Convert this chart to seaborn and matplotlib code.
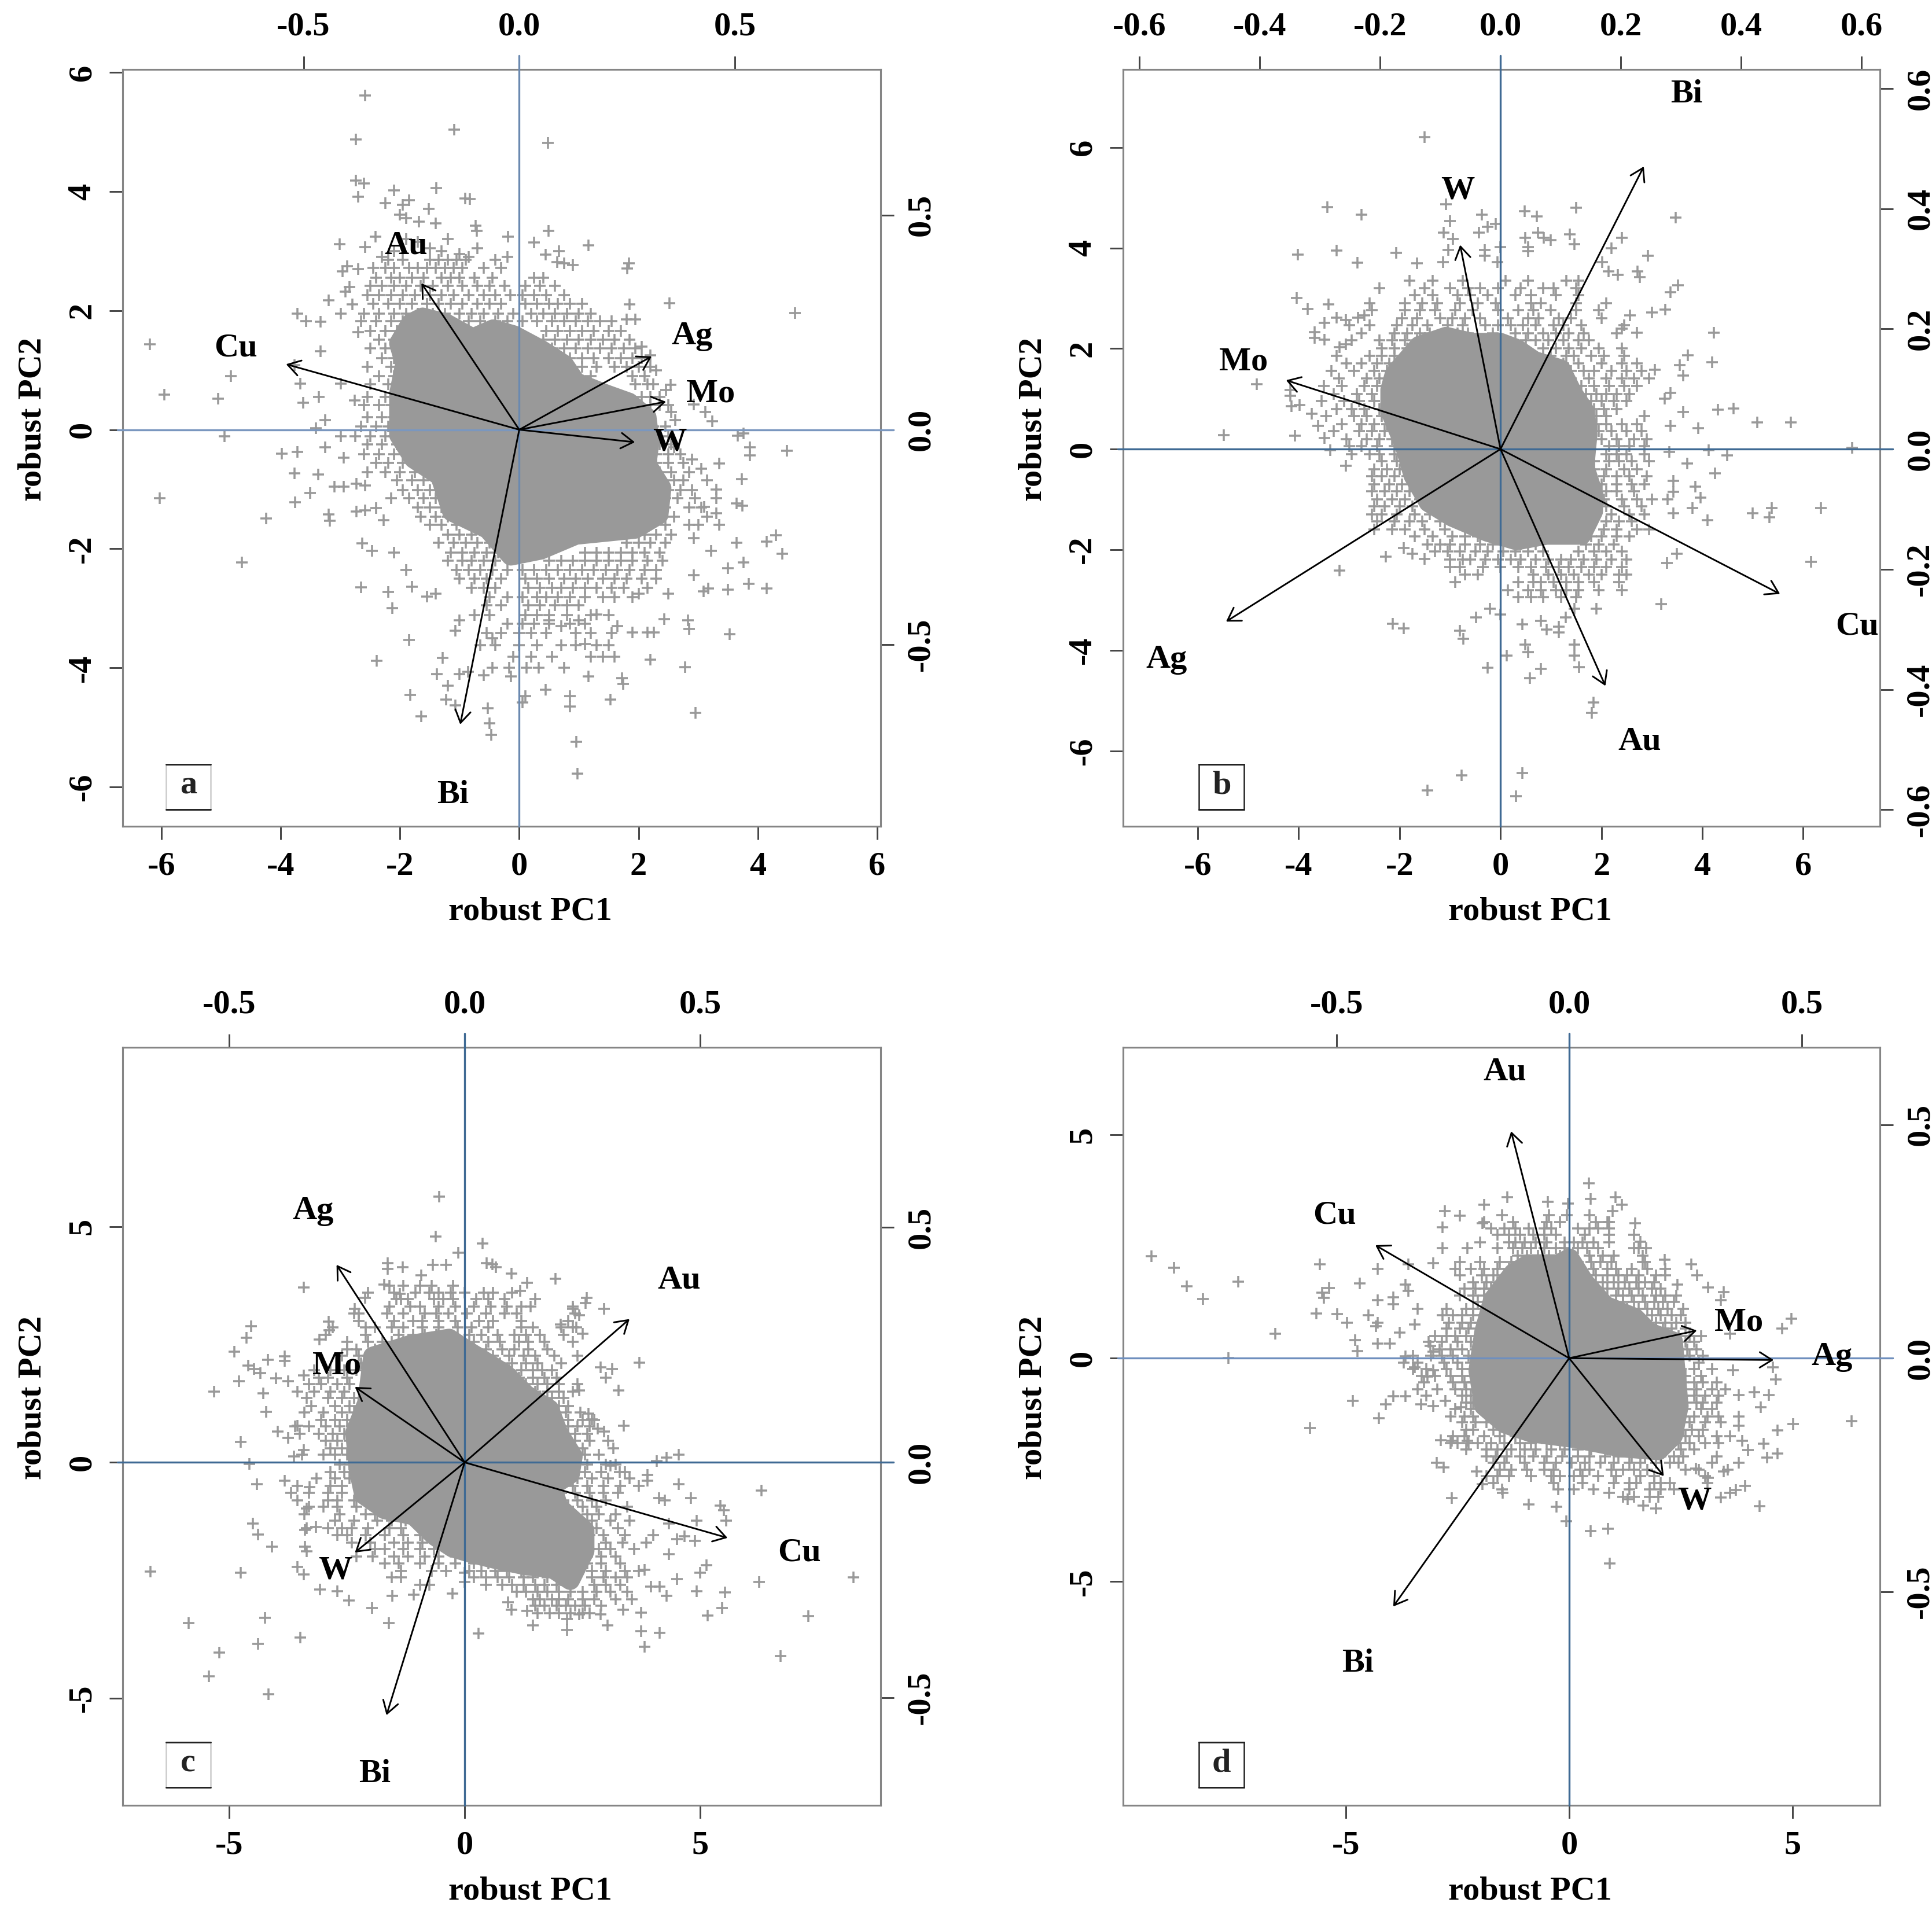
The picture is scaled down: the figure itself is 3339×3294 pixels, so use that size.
# biplots.py

import numpy as np
import pandas as pd
import seaborn as sns
import matplotlib.pyplot as plt
from matplotlib.patches import Rectangle

# --- CONFIG ---
FIG_W, FIG_H = 3339, 3294
DPI = 300
POINT_GREY = "#999999"
SPINE_GREY = "#858585"
TICK_SIZE = 14

# --- PANEL A ---
a_xlim = (-6.65, 6.06)
a_ylim = (-6.66, 6.05)
a_xticks = [-6, -4, -2, 0, 2, 4, 6]
a_yticks = [-6, -4, -2, 0, 2, 4, 6]
a_top_ticks = [-0.5, 0.0, 0.5]
a_right_ticks = [-0.5, 0.0, 0.5]
a_elements = ["Cu", "Au", "Ag", "Mo", "W", "Bi"]
a_tips = [(-3.91, 1.10), (-1.64, 2.46), (2.22, 1.23), (2.46, 0.47), (1.94, -0.21), (-0.99, -4.95)]
a_labels = [(-4.75, 1.37), (-1.90, 3.09), (2.90, 1.57), (3.21, 0.60), (2.52, -0.21), (-1.11, -6.14)]
# outline of the solid grey part of the cloud
a_core = [(-1.62, 1.89), (-1.23, 1.79), (-0.78, 1.54), (-0.44, 1.69), (-0.09, 1.59), (0.36, 1.35), (0.75, 1.1),
          (0.95, 0.8), (1.45, 0.6), (1.84, 0.46), (2.14, 0.21), (2.19, -0.19), (2.14, -0.58), (2.39, -0.98),
          (2.34, -1.43), (1.94, -1.67), (1.45, -1.72), (0.95, -1.77), (0.36, -2.02), (-0.14, -2.12), (-0.53, -1.67),
          (-1.13, -1.38), (-1.33, -0.78), (-1.77, -0.49), (-2.02, -0.09), (-2.02, 0.6), (-1.92, 1.1), (-2.02, 1.45),
          (-1.82, 1.79)]
a_points = [(-2.58, 5.61), (-2.74, 4.87), (-1.09, 5.04), (0.48, 4.82), (-2.74, 4.18), (-2.6, 4.14), (-2.7, 3.91),
            (-2.1, 4.02), (-1.39, 4.06), (-0.91, 3.88), (-0.83, 3.87), (-2.25, 3.81), (-1.95, 3.78), (-1.85, 3.85),
            (-1.52, 3.71), (-2.0, 3.61), (-1.9, 3.55), (-1.68, 3.49), (-1.4, 3.47), (-0.73, 3.43), (-0.71, 3.34),
            (0.49, 3.34), (-0.19, 3.24), (1.16, 3.1), (0.25, 3.14), (0.44, 2.94), (0.67, 3.0), (0.64, 2.81),
            (0.9, 2.77), (0.75, 2.79), (-3.01, 3.12), (-2.41, 3.24), (-2.58, 3.07), (-2.89, 2.75), (-2.96, 2.66),
            (1.84, 2.79), (1.81, 2.71), (2.52, 2.12), (4.62, 1.96), (-3.72, 1.95), (-3.57, 1.82), (-3.33, 1.81),
            (-3.2, 2.17), (-2.91, 2.32), (-2.99, 1.95), (-2.7, 1.64), (-6.19, 1.43), (-4.84, 0.9), (-5.05, 0.52),
            (-5.95, 0.59), (-4.94, -0.11), (-6.03, -1.15), (-4.24, -1.49), (-4.65, -2.23), (-3.33, 1.32),
            (-3.77, 1.08), (-3.67, 0.77), (-3.62, 0.45), (-3.36, 0.55), (-2.99, 0.77), (-2.76, 0.49), (-3.25, 0.16),
            (-3.41, 0.03), (-2.99, -0.11), (-3.98, -0.4), (-3.72, -0.37), (-3.77, -0.73), (-3.37, -0.75),
            (-3.25, -0.3), (-2.94, -0.47), (-3.51, -1.06), (-3.76, -1.22), (-3.2, -1.42), (-3.18, -1.53),
            (-3.1, -0.96), (-2.94, -0.96), (-2.73, -0.91), (-2.58, -0.94), (-2.73, -1.37), (-2.58, -1.35),
            (-2.4, -1.32), (-2.27, -1.52), (-2.63, -1.91), (-2.47, -2.03), (-2.1, -2.06), (-2.65, -2.65),
            (-2.2, -2.72), (-2.13, -3.0), (-1.9, -2.36), (-1.8, -2.64), (-1.85, -3.53), (-2.39, -3.88),
            (-1.28, -3.83), (-1.38, -4.1), (-1.07, -3.38), (-1.83, -4.45), (-1.64, -4.81), (-1.2, -4.3),
            (-1.23, -4.53), (-1.07, -4.63), (-1.0, -4.1), (-0.86, -4.07), (-0.53, -4.68), (-0.5, -4.93),
            (-0.47, -5.12), (-0.6, -4.12), (-0.45, -4.0), (-0.17, -4.0), (-0.14, -4.14), (0.12, -4.0), (0.05, -4.58),
            (0.1, -4.47), (0.44, -4.37), (0.33, -4.0), (0.75, -4.0), (0.85, -4.47), (0.85, -4.65), (1.16, -4.14),
            (1.72, -4.17), (1.74, -4.27), (1.53, -4.53), (0.96, -5.24), (0.98, -5.78), (2.96, -4.76), (2.78, -3.99),
            (2.2, -3.86), (2.15, -3.4), (2.26, -3.4), (2.43, -3.18), (2.83, -3.2), (2.85, -3.35), (3.53, -3.43),
            (3.5, -2.69), (3.5, -2.33), (2.93, -2.44), (3.09, -2.71), (3.17, -2.67), (4.15, -2.67), (3.85, -2.59),
            (3.76, -2.23), (3.64, -1.9), (4.41, -2.08), (4.3, -1.77), (4.15, -1.88), (3.22, -2.03), (2.93, -1.82),
            (3.64, -1.24), (3.74, -1.28), (3.73, -0.83), (3.35, -0.57), (3.87, -0.3), (3.87, -0.43), (4.49, -0.35),
            (3.66, -0.1), (3.76, -0.06), (3.24, 0.14), (3.12, 0.3), (2.93, 0.42), (2.46, 0.67), (2.54, 0.75),
            (2.62, 0.16), (-2.3, 2.9), (-2.1, 3.0), (-1.9, 3.2), (-1.7, 3.15), (-1.5, 3.05), (-1.3, 3.0), (-1.0, 2.95),
            (-0.85, 2.9), (-0.4, 2.85), (-0.2, 2.9), (1.85, 2.1), (1.8, 1.85), (1.95, 1.85), (2.05, 1.4), (2.2, 1.25),
            (2.3, 1.0), (2.55, 0.3), (2.6, -0.3), (2.9, -0.5), (3.05, -0.65), (3.3, -1.0), (3.1, -1.3), (3.3, -1.4),
            (3.35, -1.6), (2.0, -2.75), (2.5, -2.75), (0.5, -3.2), (0.7, -3.3), (1.0, -3.2), (1.3, -3.1), (1.1, -3.6),
            (1.65, -3.3), (1.9, -3.4), (-1.0, -3.2), (-1.4, -2.75), (-1.55, -2.8), (-0.45, -3.5), (-2.8, 2.1),
            (-2.85, 2.4), (-2.7, 2.7), (-1.2, 3.2), (-0.7, 3.05)]
# crosses of the dense band, read row by row: pc2, then the pc1 values in that row
a_rows = [(2.85, [-2.2, -1.95, -1.5, -1.35, -1.2, -1.05, -0.9]),
          (2.72, [-2.45, -2.25, -2.1, -1.85, -1.7, -1.55, -1.4, -1.25, -1.1, -0.95, -0.6, -0.3]),
          (2.55, [-2.4, -2.15, -2.0, -1.8, -1.6, -1.3, -1.15, -1.0, -0.75, -0.45, 0.25, 0.4]),
          (2.42, [-2.5, -2.3, -2.1, -1.9, -1.65, -1.45, -1.2, -0.95, -0.7, -0.5, -0.25, 0.1, 0.35, 0.6]),
          (2.26, [-2.55, -2.35, -2.15, -1.95, -1.75, -1.5, -1.3, -1.1, -0.85, -0.6, -0.4, -0.15, 0.05, 0.25, 0.45, 0.75]),
          (2.11, [-2.45, -2.2, -2.0, -1.8, -1.55, -1.35, -1.15, -0.95, -0.7, -0.5, -0.3, 0.1, 0.3, 0.5, 0.65, 0.85, 1.05]),
          (1.95, [-2.6, -2.35, -2.1, -1.9, -1.7, -1.45, -1.25, -1.0, -0.8, -0.6, -0.35, -0.1, 0.2, 0.4, 0.6, 0.8, 1.0, 1.2]),
          (1.82, [-2.65, -2.4, -2.15, -1.95, -0.85, -0.65, -0.4, -0.2, 0.05, 0.3, 0.55, 0.75, 0.95, 1.15, 1.35, 1.55]),
          (1.66, [-2.5, -2.25, -2.05, -0.55, -0.3, -0.15, 0.45, 0.65, 0.85, 1.05, 1.25, 1.5, 1.7]),
          (1.51, [-2.35, -2.1, 0.4, 0.6, 0.8, 1.0, 1.2, 1.4, 1.6, 1.85]),
          (1.37, [-2.5, -2.25, -2.05, 0.55, 0.75, 0.95, 1.15, 1.35, 1.55, 1.75, 1.95]),
          (1.2, [-2.3, -2.1, 0.85, 1.05, 1.25, 1.5, 1.7, 1.9, 2.05]),
          (1.06, [-2.55, -2.15, 1.05, 1.3, 1.6, 1.8, 2.0, 2.2]),
          (0.9, [-2.35, -2.1, 1.2, 1.9, 2.1]),
          (0.76, [-2.5, -2.2, 1.95, 2.15, 2.25]),
          (0.55, [-2.55, -2.25, -2.1, 2.05, 2.2, 2.35]),
          (0.41, [-2.6, -2.35, -2.15, 2.2, 2.35, 2.5]),
          (0.21, [-2.55, -2.3, -2.1]),
          (0.05, [-2.65, -2.4, -2.2, 2.25, 2.45]),
          (-0.11, [-2.75, -2.5, -2.25, -2.1, 2.3, 2.5]),
          (-0.25, [-2.55, -2.3, -2.05, 2.35, 2.55]),
          (-0.41, [-2.6, -2.35, -2.1, -1.9, 2.3, 2.5, 2.7]),
          (-0.56, [-2.4, -2.2, -1.95, -1.75, 2.3, 2.5, 2.75]),
          (-0.71, [-2.55, -2.25, -2.0, -1.75, -1.55, 2.35, 2.55, 2.85]),
          (-0.85, [-2.05, -1.8, -1.6, -1.4, 2.4, 2.6, 2.75, 3.15]),
          (-1.01, [-1.95, -1.7, -1.5, 2.5, 2.7, 2.9]),
          (-1.15, [-2.15, -1.85, -1.6, -1.4, 2.45, 2.65, 2.95, 3.3]),
          (-1.31, [-1.7, -1.5, -1.3, 2.45, 2.85, 3.05]),
          (-1.46, [-1.65, -1.4, -1.2, 2.4, 2.6, 3.15]),
          (-1.6, [-1.5, -1.3, -1.05, 2.2, 2.45, 2.85, 3.0]),
          (-1.76, [-1.2, -1.0, -0.8, 2.1, 2.3, 2.55]),
          (-1.9, [-1.35, -1.1, -0.9, -0.7, -0.5, 1.8, 2.0, 2.2, 2.45]),
          (-2.06, [-1.15, -0.95, -0.75, -0.55, -0.35, 1.1, 1.3, 1.5, 1.7, 1.9, 2.1, 2.35]),
          (-2.2, [-1.2, -0.95, -0.8, -0.6, -0.4, 0.5, 0.7, 0.9, 1.1, 1.3, 1.5, 1.7, 1.9, 2.15, 2.4]),
          (-2.36, [-1.05, -0.85, -0.65, -0.45, -0.2, 0.05, 0.25, 0.45, 0.65, 0.85, 1.05, 1.25, 1.45, 1.65, 1.85, 2.1, 2.3]),
          (-2.5, [-1.0, -0.75, -0.55, -0.3, 0.1, 0.3, 0.5, 0.75, 0.95, 1.15, 1.4, 1.6, 1.8, 2.05, 2.3]),
          (-2.66, [-0.8, -0.6, -0.4, 0.15, 0.35, 0.55, 0.7, 0.9, 1.1, 1.3, 1.55, 1.75, 2.15]),
          (-2.81, [-0.5, -0.2, 0.05, 0.3, 0.45, 0.65, 0.85, 1.1, 1.4, 1.6, 1.9]),
          (-2.95, [-0.55, -0.3, 0.15, 0.35, 0.6, 0.8, 1.0]),
          (-3.11, [-0.75, -0.5, 0.1, 0.3, 0.5, 0.8, 1.2, 1.5]),
          (-3.26, [-0.2, 0.05, 0.25, 0.5, 0.85, 1.1]),
          (-3.41, [-0.55, -0.3, 0.0, 0.2, 0.45, 0.95, 1.2, 1.55]),
          (-3.62, [-0.65, -0.4, 0.0, 0.3, 0.7, 0.95, 1.3, 1.5]),
          (-3.81, [-0.1, 0.2, 0.55, 1.2, 1.4, 1.6])]

# --- PANEL B ---
b_xlim = (-7.48, 7.52)
b_ylim = (-7.50, 7.55)
b_xticks = [-6, -4, -2, 0, 2, 4, 6]
b_yticks = [-6, -4, -2, 0, 2, 4, 6]
b_top_ticks = [-0.6, -0.4, -0.2, 0.0, 0.2, 0.4, 0.6]
b_right_ticks = [-0.6, -0.4, -0.2, 0.0, 0.2, 0.4, 0.6]
b_elements = ["Bi", "W", "Mo", "Ag", "Au", "Cu"]
b_tips = [(2.84, 5.62), (-0.80, 4.06), (-4.25, 1.37), (-5.44, -3.43), (2.08, -4.71), (5.54, -2.88)]
b_labels = [(3.68, 7.05), (-0.85, 5.14), (-5.09, 1.73), (-6.62, -4.19), (2.76, -5.82), (7.07, -3.53)]
b_core = [(-2.02, 1.59), (-1.61, 2.06), (-1.08, 2.24), (-0.56, 2.12), (0.0, 2.12), (0.32, 2.0), (0.67, 1.76),
          (1.2, 1.59), (1.43, 1.12), (1.67, 0.76), (1.73, 0.29), (1.67, -0.35), (1.84, -0.88), (1.84, -1.24),
          (1.61, -1.71), (0.91, -1.71), (0.32, -1.82), (-0.26, -1.65), (-0.96, -1.35), (-1.43, -1.06), (-1.73, -0.53),
          (-1.9, 0.06), (-2.19, 0.76), (-2.19, 1.18), (-2.11, 1.47)]
b_points = [(-1.5, 6.2), (-3.43, 4.81), (-2.76, 4.66), (-1.08, 4.87), (-1.0, 4.54), (-1.13, 4.31), (-0.94, 4.18),
            (-0.37, 4.66), (-0.43, 4.3), (-0.25, 4.42), (-0.09, 4.48), (0.48, 4.73), (0.72, 4.63), (1.5, 4.8),
            (3.47, 4.6), (0.74, 4.3), (0.86, 4.2), (0.49, 4.2), (1.37, 4.27), (1.47, 4.08), (2.41, 4.2), (1.0, 4.15),
            (-4.02, 3.87), (-3.25, 3.95), (-2.84, 3.71), (-2.07, 3.9), (-1.65, 3.69), (-1.04, 3.96), (-1.14, 3.72),
            (-0.31, 3.96), (-0.31, 3.84), (0.0, 4.02), (-0.06, 3.72), (0.55, 4.02), (0.55, 3.94), (2.2, 3.99),
            (2.02, 3.72), (2.14, 3.54), (2.92, 3.84), (2.72, 3.54), (2.76, 3.42), (2.33, 3.46), (3.52, 3.26),
            (3.37, 3.12), (3.27, 2.78), (3.0, 2.72), (2.57, 2.66), (2.41, 2.39), (2.7, 2.32), (4.23, 2.32),
            (3.71, 1.87), (3.55, 1.67), (3.62, 1.46), (4.19, 1.73), (3.06, 1.58), (3.37, 1.12), (3.25, 1.0),
            (3.62, 0.74), (3.37, 0.46), (3.92, 0.42), (4.31, 0.79), (4.62, 0.81), (5.09, 0.53), (5.75, 0.53),
            (6.97, 0.02), (3.35, -0.05), (4.13, -0.02), (4.49, -0.12), (3.7, -0.29), (4.25, -0.48), (3.43, -0.63),
            (3.43, -0.85), (3.31, -1.0), (3.86, -0.75), (3.96, -0.97), (3.8, -1.17), (3.43, -1.27), (4.1, -1.41),
            (5.0, -1.28), (5.33, -1.35), (5.38, -1.17), (6.35, -1.17), (6.16, -2.24), (3.49, -2.08), (3.3, -2.26),
            (3.19, -3.08), (2.94, -1.6), (1.9, -3.17), (1.47, -3.17), (1.29, -3.35), (1.16, -3.53), (0.8, -3.41),
            (0.92, -3.59), (0.43, -3.49), (0.0, -3.29), (-0.21, -3.17), (-0.49, -3.35), (-0.8, -3.61), (-0.74, -3.77),
            (-2.14, -3.47), (-1.92, -3.56), (-3.19, -2.42), (-2.27, -2.14), (-1.92, -1.96), (-1.75, -2.08),
            (-1.5, -2.18), (0.49, -3.89), (0.55, -4.04), (0.12, -4.1), (-0.25, -4.35), (0.58, -4.56), (0.8, -4.37),
            (1.16, -3.65), (1.47, -3.89), (1.47, -4.11), (1.56, -4.34), (1.84, -5.04), (1.81, -5.24), (-0.77, -6.49),
            (-1.45, -6.79), (0.43, -6.44), (0.31, -6.9), (-4.83, 1.29), (-5.49, 0.28), (-4.17, 1.18), (-4.17, 1.06),
            (-3.98, 0.88), (-4.14, 0.85), (-4.07, 0.27), (-4.04, 3.0), (-3.82, 2.79), (-3.41, 2.88), (-3.49, 2.51),
            (-3.25, 2.61), (-3.06, 2.57), (-3.68, 2.33), (-3.68, 2.21), (-3.49, 2.18), (-3.19, 2.03), (-3.06, 2.09),
            (-2.82, 2.61), (-2.7, 2.66), (-3.74, 0.7), (-3.62, 0.46), (-3.49, 0.22), (-3.37, -0.02), (-3.06, -0.33)]
b_rows = [(3.35, [-1.8, -1.35, -0.75, 0.1, 0.55, 1.3, 1.55]),
          (3.2, [-2.4, -1.5, -1.0, -0.65, -0.4, -0.05, 0.4, 0.85, 1.05, 1.5]),
          (3.06, [-1.7, -1.35, -0.85, -0.6, -0.25, 0.3, 0.6, 1.1, 1.55]),
          (2.9, [-2.6, -1.9, -1.55, -1.25, -0.8, -0.45, -0.1, 0.6, 0.8, 1.5, 2.1]),
          (2.76, [-2.55, -1.9, -1.6, -1.3, -0.9, -0.55, -0.05, 0.35, 0.65, 1.0, 1.5, 1.95]),
          (2.6, [-1.95, -1.65, -1.2, -0.95, -0.7, -0.4, 0.15, 0.55, 0.75, 1.15, 1.4, 2.0]),
          (2.46, [-3.0, -2.6, -2.05, -1.75, -1.45, -1.05, -0.75, -0.3, -0.05, 0.2, 0.45, 0.7, 1.05, 1.25, 1.6, 2.45]),
          (2.3, [-2.75, -2.1, -1.85, -1.6, -1.4, -0.85, -0.65, -0.15, 0.3, 0.55, 0.85, 1.1, 1.35, 1.65, 2.3]),
          (2.16, [-2.95, -2.4, -2.15, -1.9, -1.65, 0.5, 0.7, 0.95, 1.25, 1.55, 1.75]),
          (2.0, [-2.35, -2.1, -1.85, 0.85, 1.1, 1.35, 1.6, 1.95, 2.4]),
          (1.86, [-3.25, -2.6, -2.35, -2.1, 1.0, 1.3, 1.45, 1.8, 2.05, 2.45]),
          (1.7, [-3.05, -2.75, -2.45, -2.2, 1.25, 1.55, 2.0, 2.4, 2.7]),
          (1.56, [-3.35, -2.9, -2.5, -2.25, 1.4, 1.65, 1.85, 2.2, 2.5, 2.8]),
          (1.4, [-3.2, -2.65, -2.4, 1.4, 1.75, 2.1, 2.4, 2.65, 2.95]),
          (1.26, [-3.5, -3.15, -2.7, -2.45, 1.6, 1.85, 2.15, 2.45, 2.7]),
          (1.1, [-3.3, -2.85, -2.55, 1.7, 1.9, 2.1, 2.3, 2.55]),
          (0.96, [-3.55, -3.1, -2.8, -2.5, 1.8, 2.0, 2.25, 2.5]),
          (0.8, [-3.25, -2.95, -2.7, -2.4, 1.85, 2.05, 2.3]),
          (0.66, [-3.45, -2.9, -2.65, -2.35, 1.9, 2.1, 2.85]),
          (0.5, [-3.15, -2.75, -2.5, -2.25, 1.9, 2.1, 2.4, 2.7]),
          (0.36, [-3.3, -2.8, -2.55, -2.3, 1.95, 2.2, 2.5, 2.8]),
          (0.2, [-3.05, -2.65, -2.4, -2.15, 2.0, 2.3, 2.65, 2.9]),
          (0.06, [-3.0, -2.75, -2.45, -2.1, 2.15, 2.35, 2.55, 2.85]),
          (-0.1, [-2.95, -2.6, -2.4, -2.1, 2.1, 2.3, 2.5, 2.85]),
          (-0.24, [-2.35, -2.05, 1.85, 2.15, 2.35, 2.6, 2.95]),
          (-0.4, [-2.5, -2.25, -2.0, 1.85, 2.1, 2.45, 2.7]),
          (-0.54, [-2.55, -2.35, -2.1, -1.85, 2.05, 2.3, 2.55, 2.9]),
          (-0.7, [-2.5, -2.2, -1.95, 2.0, 2.3, 2.6, 2.85]),
          (-0.84, [-2.55, -2.3, -2.05, -1.8, 2.1, 2.3, 2.65]),
          (-1.0, [-2.45, -2.15, -1.9, -1.6, 2.05, 2.4, 2.7, 3.0]),
          (-1.14, [-2.5, -2.3, -2.0, -1.75, 2.1, 2.45, 2.8]),
          (-1.3, [-2.55, -2.35, -2.05, -1.7, -1.4, 2.2, 2.55, 2.85]),
          (-1.44, [-2.45, -2.1, -1.8, -1.55, -1.2, 2.1, 2.35, 2.6]),
          (-1.6, [-2.5, -2.15, -1.9, -1.5, -1.1, 2.05, 2.3, 2.7]),
          (-1.74, [-1.7, -1.35, -0.95, -0.7, -0.45, 1.8, 2.0, 2.3, 2.55]),
          (-1.9, [-1.45, -1.2, -1.0, -0.7, -0.4, -0.15, 0.4, 0.7, 1.7, 1.95, 2.25]),
          (-2.04, [-1.3, -1.05, -0.8, -0.5, -0.25, 0.05, 0.3, 0.55, 0.85, 1.55, 1.85, 2.1, 2.4]),
          (-2.2, [-1.0, -0.75, -0.6, -0.3, -0.05, 0.2, 0.4, 0.7, 0.95, 1.2, 1.4, 1.65, 1.9, 2.2, 2.5]),
          (-2.34, [-1.0, -0.8, -0.35, 0.0, 0.35, 0.6, 0.9, 1.15, 1.35, 1.6, 1.85, 2.1, 2.4]),
          (-2.5, [-0.7, -0.45, 0.65, 0.95, 1.2, 1.45, 1.75, 2.0, 2.35, 2.5]),
          (-2.64, [-0.9, 0.35, 0.65, 0.8, 1.05, 1.3, 1.55, 1.85, 2.35]),
          (-2.8, [0.15, 0.55, 0.8, 1.1, 1.3, 1.55, 1.95, 2.4]),
          (-2.94, [0.35, 0.6, 0.85, 1.2, 1.5])]

# --- PANEL C ---
c_xlim = (-7.26, 8.83)
c_ylim = (-7.27, 8.80)
c_xticks = [-5, 0, 5]
c_yticks = [-5, 0, 5]
c_top_ticks = [-0.5, 0.0, 0.5]
c_right_ticks = [-0.5, 0.0, 0.5]
c_elements = ["Ag", "Au", "Mo", "W", "Bi", "Cu"]
c_tips = [(-2.72, 4.19), (3.50, 3.04), (-2.33, 1.60), (-2.33, -1.91), (-1.66, -5.36), (5.58, -1.60)]
c_labels = [(-3.22, 5.33), (4.55, 3.86), (-2.71, 2.05), (-2.75, -2.29), (-1.91, -6.61), (7.10, -1.92)]
c_core = [(-1.95, 2.25), (-1.14, 2.5), (-0.33, 2.63), (0.05, 2.38), (0.36, 2.19), (0.86, 1.88), (1.3, 1.44), (1.8, 1.13),
          (1.99, 0.63), (2.3, 0.13), (2.24, -0.25), (1.86, -0.5), (1.99, -0.94), (2.55, -1.44), (2.55, -1.88), (2.24, -2.5),
          (1.86, -2.25), (1.3, -2.19), (0.68, -2.06), (0.18, -1.94), (-0.26, -1.81), (-0.64, -1.56), (-1.08, -1.13),
          (-1.7, -1.0), (-2.14, -0.69), (-2.26, -0.13), (-2.33, 0.63), (-2.08, 1.25)]
c_points = [(-0.54, 5.64), (-0.62, 4.79), (-0.14, 4.45), (0.38, 4.64), (-3.42, 3.71), (-1.64, 4.23), (-1.64, 4.1),
            (-1.32, 4.14), (-0.92, 3.97), (-0.68, 4.19), (-0.39, 4.19), (0.46, 4.23), (0.59, 4.2), (0.66, 4.14),
            (0.99, 4.0), (1.93, 3.89), (1.32, 3.81), (1.18, 3.64), (2.59, 3.49), (2.57, 3.38), (2.96, 3.25),
            (2.3, 3.25), (2.43, 3.12), (2.04, 2.93), (2.37, 2.86), (2.5, 2.73), (3.71, 2.11), (2.89, 2.02),
            (3.13, 1.98), (3.0, 1.79), (3.26, 1.52), (2.43, 1.53), (3.38, 0.78), (2.63, 1.04), (2.7, 0.91),
            (2.83, 0.72), (2.96, 0.65), (3.09, -0.07), (3.29, -0.2), (4.08, 0.03), (4.28, 0.1), (4.54, 0.16),
            (3.88, -0.26), (3.88, -0.39), (4.54, -0.46), (4.12, -0.75), (4.25, -0.81), (4.8, -0.75), (5.43, -0.91),
            (5.5, -1.01), (5.55, -1.24), (6.3, -0.6), (4.93, -1.24), (4.34, -1.3), (4.67, -1.56), (4.89, -1.66),
            (4.51, -1.63), (4.34, -1.95), (4.51, -2.47), (5.13, -2.18), (5.0, -2.34), (4.93, -2.73), (6.25, -2.54),
            (5.53, -2.76), (5.46, -3.09), (5.16, -3.25), (8.25, -2.44), (7.29, -3.26), (6.71, -4.11), (3.82, -2.28),
            (3.95, -2.63), (4.14, -2.63), (4.28, -2.83), (3.75, -3.19), (3.75, -3.58), (4.14, -3.61), (3.82, -3.91),
            (3.03, -3.45), (3.36, -3.12), (2.89, -3.22), (2.17, -3.55), (2.43, -3.22), (2.17, -3.32), (1.45, -3.45),
            (1.32, -3.15), (0.92, -2.96), (0.99, -3.12), (0.29, -3.63), (0.0, -2.54), (0.0, -2.34), (-0.26, -2.78),
            (-1.08, -2.8), (-1.54, -2.83), (-1.61, -3.41), (-1.97, -3.09), (-2.46, -2.93), (-2.7, -2.73),
            (-3.07, -2.69), (-3.42, -2.37), (-3.55, -2.21), (-3.39, -1.79), (-3.36, -1.89), (-4.76, -2.34),
            (-6.67, -2.31), (-5.86, -3.41), (-4.24, -3.3), (-3.49, -3.71), (-4.38, -3.85), (-5.21, -4.03),
            (-5.43, -4.53), (-4.16, -4.92), (-4.09, -1.79), (-4.5, -1.29), (-4.39, -1.53), (-3.39, -1.43),
            (-3.16, -1.37), (-4.41, -0.46), (-4.57, -0.03), (-4.76, 0.43), (-5.32, 1.5), (-4.79, 1.72), (-4.89, 2.35),
            (-4.63, 2.64), (-4.53, 2.89), (-4.6, 2.05), (-4.47, 1.98), (-4.18, 2.18), (-3.82, 2.25), (-3.82, 2.15),
            (-4.34, 1.89), (-4.01, 1.78), (-3.75, 1.72), (-3.42, 1.85), (-4.28, 1.46), (-3.55, 1.5), (-4.21, 1.07),
            (-3.97, 0.65), (-3.55, 0.78), (-3.75, 0.52), (-3.62, 0.13), (-3.42, 0.26), (-3.82, -0.39), (-3.68, -0.65),
            (-3.29, -0.52), (-3.36, -0.98), (-3.09, 2.6), (-2.89, 2.99), (-2.87, 2.8), (-2.34, 3.25), (-2.11, 3.49),
            (-1.71, 3.77), (-1.38, 3.58)]
c_rows = [(3.75, [-1.6, -1.3, -0.95, -0.7, -0.25]),
          (3.6, [-2.05, -1.5, -1.05, -0.75, -0.55, -0.3, 0.0, 0.4, 0.6, 1.0]),
          (3.46, [-1.45, -1.35, -1.2, -0.65, -0.45, -0.25, 0.25, 0.5, 0.85, 1.5]),
          (3.3, [-1.6, -1.15, -0.95, -0.55, -0.2, 0.2, 0.55, 0.9, 1.2, 1.4, 2.3]),
          (3.16, [-2.35, -2.25, -1.65, -1.3, -0.85, -0.6, -0.35, 0.05, 0.45, 0.85, 1.1, 2.35]),
          (3.0, [-2.25, -1.5, -1.1, -0.9, -0.55, -0.2, 0.3, 0.6, 1.2, 2.2]),
          (2.86, [-2.8, -2.1, -1.9, -1.55, -1.3, -0.9, -0.55, -0.15, 0.15, 0.5, 1.2, 1.45, 2.05, 2.3]),
          (2.7, [-2.95, -2.1, -1.4, -1.1, -0.85, -0.6, -0.35, 0.1, 0.35, 0.7, 1.05, 1.3, 1.6, 2.1]),
          (2.56, [-2.5, -2.05, -1.75, -1.55, -1.3, 0.2, 0.5, 0.75, 1.15, 1.35, 1.7, 2.3]),
          (2.4, [-2.5, -2.3, -1.9, -1.65, 0.45, 0.8, 1.05, 1.35, 1.75]),
          (2.26, [-2.6, -2.25, -2.05, 0.6, 0.95, 1.25, 1.5, 1.9, 2.4]),
          (2.1, [-2.2, -2.0, 0.75, 1.0, 1.3, 1.55, 2.05]),
          (1.96, [-3.2, -2.85, -2.55, -2.3, 0.95, 1.2, 1.45, 1.65, 1.85]),
          (1.8, [-3.1, -2.9, -2.5, 0.95, 1.15, 1.45, 1.7, 1.95]),
          (1.66, [-3.3, -3.05, -2.7, -2.45, 1.3, 1.55, 1.75, 2.0, 2.4]),
          (1.5, [-3.2, -2.85, -2.55, 1.5, 1.75, 2.0, 2.3]),
          (1.36, [-3.35, -2.9, -2.6, -2.35, 1.6, 1.85, 2.1]),
          (1.2, [-3.25, -2.75, -2.45, -2.2, 1.75, 2.0, 2.2]),
          (1.06, [-3.4, -3.0, -2.6, -2.35, 1.9, 2.15, 2.45]),
          (0.9, [-3.05, -2.75, -2.5, 1.95, 2.2, 2.5, 2.75]),
          (0.76, [-3.6, -3.3, -2.95, -2.65, -2.4, 1.95, 2.2, 2.4, 2.65]),
          (0.6, [-3.5, -3.1, -2.8, -2.55, 2.1, 2.35, 2.6]),
          (0.46, [-2.95, -2.7, -2.45, 2.15, 2.35, 2.65, 3.05]),
          (0.3, [-2.85, -2.6, -2.35, 2.25, 2.5, 3.15]),
          (0.16, [-3.45, -3.0, -2.75, -2.5, 2.3, 2.55, 2.85]),
          (-0.05, [-2.65, -2.45, 2.35, 2.6, 3.0, 3.2]),
          (-0.2, [-2.85, -2.55, -2.3, 2.3, 2.55, 2.9, 3.4]),
          (-0.34, [-3.15, -2.75, -2.45, -2.2, 2.1, 2.4, 2.7, 3.05, 3.5]),
          (-0.5, [-3.55, -2.85, -2.6, -2.25, -2.05, 2.0, 2.3, 2.6, 2.95, 3.3, 3.7]),
          (-0.64, [-3.3, -2.9, -2.6, -2.1, -1.85, 2.05, 2.35, 2.65, 2.95, 3.25]),
          (-0.8, [-3.55, -2.9, -2.7, -2.35, -2.0, -1.75, 2.1, 2.4, 2.7, 3.0]),
          (-0.94, [-3.3, -3.0, -2.7, -2.3, -1.9, -1.6, 2.2, 2.5, 2.8, 3.45]),
          (-1.1, [-3.4, -2.65, -2.1, -1.9, -1.5, 2.3, 2.6, 2.85, 3.2]),
          (-1.24, [-2.75, -2.35, -1.85, -1.55, -1.25, 2.4, 2.7, 3.1, 3.5]),
          (-1.4, [-3.35, -2.9, -2.6, -2.4, -2.05, -1.6, -1.35, -0.95, 2.55, 2.8, 3.25]),
          (-1.54, [-2.7, -2.5, -2.1, -1.7, -1.3, -0.95, -0.7, 2.65, 2.95, 3.4, 4.0]),
          (-1.7, [-2.4, -2.0, -1.5, -1.2, -0.9, -0.6, -0.35, 2.6, 3.0, 3.35, 3.85]),
          (-1.84, [-1.9, -1.7, -1.3, -0.95, -0.65, -0.35, -0.1, 2.65, 2.85, 3.1, 3.6]),
          (-2.0, [-2.3, -1.95, -1.5, -1.2, -0.85, -0.55, -0.2, 0.15, 0.45, 2.6, 2.9, 3.2]),
          (-2.14, [-1.7, -1.4, -0.95, -0.55, -0.2, 0.2, 0.5, 0.8, 1.1, 1.4, 2.6, 2.9, 3.3]),
          (-2.3, [-1.35, -0.7, -0.4, 0.1, 0.35, 0.65, 0.9, 1.2, 1.5, 1.7, 2.7, 3.0, 3.4, 3.7]),
          (-2.44, [-1.55, -1.35, 0.2, 0.45, 0.7, 0.95, 1.25, 1.45, 1.75, 2.7, 2.95, 3.2, 3.45]),
          (-2.6, [-0.95, -0.75, 0.45, 0.8, 1.0, 1.25, 1.5, 1.7, 1.95, 2.75, 3.0, 3.3]),
          (-2.74, [1.1, 1.3, 1.55, 1.75, 2.0, 2.25, 2.5, 2.8, 3.1, 3.45]),
          (-2.9, [1.45, 1.6, 1.85, 2.0, 2.2, 2.5, 2.75, 3.2, 3.55]),
          (-3.04, [1.5, 1.7, 1.95, 2.15, 2.35, 2.55, 2.9]),
          (-3.2, [1.55, 1.8, 2.0, 2.25, 2.5, 2.65])]

# --- PANEL D ---
d_xlim = (-9.99, 6.96)
d_ylim = (-10.01, 6.96)
d_xticks = [-5, 0, 5]
d_yticks = [-5, 0, 5]
d_top_ticks = [-0.5, 0.0, 0.5]
d_right_ticks = [-0.5, 0.0, 0.5]
d_elements = ["Au", "Cu", "Mo", "Ag", "W", "Bi"]
d_tips = [(-1.30, 5.08), (-4.34, 2.53), (2.86, 0.62), (4.58, -0.04), (2.12, -2.64), (-3.94, -5.56)]
d_labels = [(-1.44, 6.41), (-5.26, 3.20), (3.80, 0.80), (5.88, 0.03), (2.81, -3.20), (-4.74, -6.84)]
d_core = [(-1.25, 1.91), (-0.91, 2.11), (-0.25, 2.11), (0.01, 2.24), (0.34, 1.71), (0.81, 1.18), (1.47, 0.91), (1.8, 0.58),
          (2.33, 0.38), (2.4, -0.41), (2.46, -1.07), (2.33, -1.74), (2.0, -2.07), (1.14, -2.0), (0.15, -1.8), (-0.85, -1.67),
          (-1.44, -1.47), (-1.91, -1.07), (-2.04, -0.28), (-1.91, 0.58), (-1.71, 1.31)]
d_points = [(-9.35, 2.29), (-8.85, 2.03), (-8.56, 1.61), (-8.2, 1.32), (-7.41, 1.72), (-7.63, 0.0), (-6.58, 0.55),
            (-5.59, 2.1), (-5.53, 1.47), (-5.38, 1.57), (-5.49, 1.35), (-5.66, 1.0), (-5.19, 0.99), (-4.98, 0.8),
            (-4.69, 1.68), (-4.29, 2.0), (-4.8, 0.41), (-4.74, 0.16), (-4.5, 0.96), (-4.29, 0.8), (-4.33, 0.71),
            (-4.29, 1.3), (-3.94, 1.37), (-3.94, 1.21), (-3.67, 1.65), (-3.6, 1.51), (-3.6, 2.1), (-4.29, 0.33),
            (-4.01, 0.33), (-3.8, 0.58), (-3.46, 0.76), (-3.04, 2.13), (-2.84, 2.47), (-2.79, 3.3), (-2.84, 2.93),
            (-2.45, 3.19), (-1.91, 3.43), (-1.94, 3.02), (-2.28, 2.47), (-1.38, 3.6), (-0.48, 3.5), (-0.03, 3.46),
            (0.44, 3.91), (1.04, 3.6), (0.48, 3.57), (1.18, 3.43), (0.97, 3.3), (1.48, 3.02), (1.59, 2.61),
            (1.73, 2.47), (2.14, 2.2), (2.74, 2.1), (2.86, 1.85), (3.11, 1.58), (3.46, 1.48), (3.39, 1.3), (2.42, 1.65),
            (4.98, 0.88), (4.77, 0.66), (3.6, 0.55), (4.56, -0.2), (4.63, -0.48), (3.67, -0.27), (3.8, -0.82),
            (4.15, -0.76), (4.47, -0.82), (4.29, -1.1), (5.02, -1.47), (4.66, -1.62), (6.33, -1.41), (4.36, -1.92),
            (4.67, -2.13), (4.43, -2.23), (3.8, -1.51), (3.87, -1.85), (4.01, -2.06), (3.8, -2.34), (3.46, -2.54),
            (3.11, -2.68), (2.84, -2.47), (3.94, -2.86), (3.73, -2.95), (4.26, -3.31), (3.39, -3.12), (3.6, -3.02),
            (1.94, -3.37), (1.66, -3.3), (1.31, -3.16), (0.9, -3.02), (0.87, -3.82), (0.48, -3.87), (-0.07, -3.65),
            (0.91, -4.6), (-0.28, -3.32), (-0.9, -3.27), (-1.49, -3.02), (-2.63, -3.13), (-1.94, -2.82), (-2.07, -2.54),
            (-2.97, -2.34), (-2.81, -2.45), (-2.88, -1.83), (-2.63, -1.85), (-2.28, -1.85), (-5.81, -1.57),
            (-4.85, -0.96), (-4.26, -1.35), (-4.11, -1.03), (-3.94, -0.85), (-3.67, -0.85), (-3.32, -1.03),
            (-3.04, -1.07), (-2.77, -0.96), (-2.42, -1.1), (-3.67, 0.04), (-3.46, -0.2), (-3.18, -0.41), (-3.04, -0.27),
            (-3.04, 0.14), (-3.39, 1.1), (-3.11, 0.27), (-2.84, 0.96)]
d_rows = [(3.2, [-1.5, -0.45, -0.05, 0.45]),
          (3.05, [-1.9, -1.25, -0.5, -0.2, 0.6, 0.85, 0.9]),
          (2.9, [-1.75, -1.45, -1.2, -0.9, -0.55, -0.4, 0.2, 0.45, 0.65, 0.9]),
          (2.76, [-1.6, -1.35, -1.1, -0.8, -0.55, -0.3, 0.35, 0.9, 1.45]),
          (2.6, [-2.0, -1.35, -1.2, -1.0, -0.75, -0.5, -0.1, 0.1, 0.3, 0.55, 0.9]),
          (2.46, [-1.6, -1.25, -1.05, -0.85, -0.55, -0.3, -0.1, 0.2, 0.4, 0.65, 1.45, 1.55]),
          (2.3, [-1.15, -0.95, -0.7, -0.45, -0.2, 0.05, 0.45, 0.75, 1.0, 1.65]),
          (2.16, [-2.45, -2.0, -1.55, -1.3, -1.15, -0.75, -0.4, 0.2, 0.5, 0.7, 0.95, 1.65, 1.7]),
          (2.0, [-2.55, -2.2, -1.9, -1.6, -1.35, -1.1, 0.25, 0.55, 0.85, 1.05, 1.4, 1.75, 2.15]),
          (1.86, [-2.45, -1.95, -1.7, -1.45, 0.4, 0.6, 0.85, 1.1, 1.3, 1.55, 1.95, 2.15]),
          (1.7, [-2.15, -1.85, -1.6, 0.5, 0.75, 1.0, 1.25, 1.5, 1.7, 1.9]),
          (1.56, [-2.35, -2.1, -1.9, -1.75, -1.5, 0.6, 0.85, 1.1, 1.35, 1.55, 1.85, 2.05]),
          (1.4, [-2.45, -2.15, -1.9, -1.7, 1.05, 1.2, 1.4, 1.65, 1.95, 2.15, 2.4]),
          (1.26, [-2.05, -1.8, 1.2, 1.45, 1.7, 1.9, 2.1, 2.35]),
          (1.1, [-2.75, -2.3, -2.15, -1.9, -1.8, 1.3, 1.55, 1.75, 2.0, 2.2, 2.55]),
          (0.96, [-2.6, -2.4, -2.15, -1.9, 1.55, 1.85, 2.05, 2.3, 2.5]),
          (0.8, [-2.7, -2.4, -2.2, -2.0, 1.7, 1.95, 2.15, 2.4, 2.6]),
          (0.66, [-2.75, -2.45, -2.25, -2.0, 1.95, 2.1, 2.3, 2.6]),
          (0.5, [-3.0, -2.75, -2.55, -2.3, -2.05, 2.2, 2.45, 2.7, 2.95]),
          (0.36, [-3.15, -2.85, -2.5, -2.2, -2.0, 2.3, 2.6, 2.8]),
          (0.2, [-2.9, -2.65, -2.4, -2.1, 2.45, 2.65, 2.85]),
          (0.06, [-3.5, -3.1, -2.85, -2.6, -2.25, -2.05, 2.5, 2.7, 3.0]),
          (-0.1, [-3.7, -3.4, -2.8, -2.5, -2.2, 2.45, 2.9]),
          (-0.24, [-3.5, -3.2, -2.75, -2.4, -2.15, 2.5, 2.8, 3.2]),
          (-0.4, [-3.3, -3.0, -2.65, -2.4, -2.15, 2.6, 2.95]),
          (-0.54, [-3.25, -2.6, -2.35, -2.15, 2.55, 2.8, 3.0, 3.3]),
          (-0.7, [-3.4, -2.95, -2.55, -2.3, -2.05, 2.6, 2.85, 3.2, 3.5]),
          (-0.84, [-3.2, -2.4, -2.2, -2.0, 2.55, 2.8, 3.05, 3.35]),
          (-1.0, [-2.3, -2.15, -1.95, 2.6, 2.85, 3.0, 3.3]),
          (-1.14, [-2.55, -2.2, -1.95, 2.6, 2.95, 3.2]),
          (-1.3, [-2.65, -2.35, -2.15, 2.55, 2.8, 3.1, 3.35, 3.8]),
          (-1.44, [-2.4, -2.1, -1.85, 2.5, 2.7, 3.05, 3.4]),
          (-1.6, [-2.3, -2.15, -1.7, -1.45, 2.55, 2.75, 3.0]),
          (-1.74, [-2.6, -2.35, -1.9, -1.55, -1.2, -0.9, 2.4, 2.6, 2.9, 3.3, 3.6]),
          (-1.9, [-2.65, -2.5, -2.25, -2.05, -1.75, -1.45, -1.1, -0.85, -0.5, -0.2, 2.2, 2.45, 2.7, 3.05, 3.35]),
          (-2.04, [-2.3, -1.85, -1.6, -1.3, -1.0, -0.75, -0.4, -0.1, 0.2, 0.5, 0.85, 1.5, 2.15, 2.5, 2.8]),
          (-2.2, [-1.85, -1.65, -1.4, -1.1, -0.8, -0.5, -0.15, 0.2, 0.45, 0.8, 1.1, 1.4, 1.7, 2.05, 2.35, 2.55, 3.3]),
          (-2.34, [-1.7, -1.45, -1.0, -0.55, -0.3, 0.05, 0.35, 0.7, 1.0, 1.35, 1.6, 1.95, 2.25, 2.45, 3.2]),
          (-2.5, [-1.55, -1.3, -0.95, -0.55, -0.35, 0.25, 0.45, 0.95, 1.2, 1.45, 1.75, 2.6, 2.9, 3.55]),
          (-2.64, [-1.85, -1.6, -1.35, -0.85, -0.4, -0.2, 0.1, 0.3, 0.65, 1.05, 1.6, 1.9, 3.05]),
          (-2.8, [-1.7, -0.35, 0.3, 1.0, 1.35, 1.5, 1.9, 2.05, 2.25, 3.1]),
          (-2.94, [-1.5, -0.25, 0.1, 0.55, 1.35, 1.8, 2.05, 2.35]),
          (-3.1, [1.2, 1.45, 1.8, 2.0])]

panel_ids = ["a", "b", "c", "d"]
# frame of each panel in image pixels: left, right, top, bottom
frames_px = [(212, 1522, 120, 1428), (1941, 3249, 120, 1428), (212, 1522, 1810, 3120), (1941, 3249, 1810, 3120)]
# primary units per secondary axis unit, top and right
top_ratio = [7.235, 11.93, 10.0, 10.42]
right_ratio = [7.21, 11.95, 9.97, 10.45]
h_line_colours = ["#7a97bf", "#3f6a94", "#3f6a94", "#6f8fbe"]
v_line_colours = ["#6a89b0", "#3f6a94", "#3f6a94", "#3f6a94"]
# letter box in axes fraction: left, bottom
box_pos = [(0.057, 0.0225), (0.1005, 0.0225), (0.057, 0.024), (0.1005, 0.024)]
box_faint_sides = [True, False, True, False]

panels = [
    (a_xlim, a_ylim, a_xticks, a_yticks, a_top_ticks, a_right_ticks, a_elements, a_tips, a_labels, a_core, a_points, a_rows),
    (b_xlim, b_ylim, b_xticks, b_yticks, b_top_ticks, b_right_ticks, b_elements, b_tips, b_labels, b_core, b_points, b_rows),
    (c_xlim, c_ylim, c_xticks, c_yticks, c_top_ticks, c_right_ticks, c_elements, c_tips, c_labels, c_core, c_points, c_rows),
    (d_xlim, d_ylim, d_xticks, d_yticks, d_top_ticks, d_right_ticks, d_elements, d_tips, d_labels, d_core, d_points, d_rows),
]

sns.set_theme(style="white")
plt.rcParams["font.family"] = ["Liberation Serif", "DejaVu Serif"]
plt.rcParams["font.weight"] = "bold"
plt.rcParams["axes.unicode_minus"] = False
plt.rcParams["text.color"] = "black"
plt.rcParams["xtick.labelcolor"] = "black"
plt.rcParams["ytick.labelcolor"] = "black"


def fmt(v):
    return f"{v:.1f}"


def draw_panel(fig, i, panel):
    xlim, ylim, xticks, yticks, top_ticks, right_ticks, elements, tips, labels, core, points, rows = panel
    left, right, top, bottom = frames_px[i]
    ax = fig.add_axes([left / FIG_W, 1 - bottom / FIG_H, (right - left) / FIG_W, (bottom - top) / FIG_H])

    # cloud: solid middle (thick edge to soften the outline), then every separate cross
    core_df = pd.DataFrame(core, columns=["pc1", "pc2"])
    ax.fill(core_df["pc1"], core_df["pc2"], color=POINT_GREY, lw=8, joinstyle="round", zorder=1)
    row_points = [(x, y) for y, xs in rows for x in xs]
    df = pd.DataFrame(points + row_points, columns=["pc1", "pc2"])
    sns.scatterplot(data=df, x="pc1", y="pc2", marker="+", color=POINT_GREY, s=24, linewidth=0.85, ax=ax, zorder=2)

    ax.set_xlim(xlim)
    ax.set_ylim(ylim)

    # zero lines run a little past the frame
    ax.axhline(0, xmin=-0.007, xmax=1.017, color=h_line_colours[i], lw=0.8, clip_on=False, zorder=3)
    ax.axvline(0, ymin=0, ymax=1.018, color=v_line_colours[i], lw=0.8, clip_on=False, zorder=3)

    # loading arrows and element names
    for name, tip, lab in zip(elements, tips, labels):
        ax.annotate("", xy=tip, xytext=(0, 0),
                    arrowprops=dict(arrowstyle="->,head_length=0.32,head_width=0.2", color="black", lw=0.7,
                                    shrinkA=0, shrinkB=0, mutation_scale=16), zorder=4)
        ax.text(lab[0], lab[1], name, ha="center", va="center", fontsize=TICK_SIZE, fontweight="bold",
                color="black", zorder=5)

    # frame and ticks
    for spine in ax.spines.values():
        spine.set_color(SPINE_GREY)
        spine.set_linewidth(0.75)
    ax.set_xticks(xticks)
    ax.set_yticks(yticks)
    ax.tick_params(axis="both", length=5.5, width=0.7, color="#444444", pad=5, labelsize=TICK_SIZE, bottom=True, left=True)
    plt.setp(ax.get_yticklabels(), rotation=90, va="center")

    tr, rr = top_ratio[i], right_ratio[i]
    top_ax = ax.secondary_xaxis("top", functions=(lambda v: v / tr, lambda v: v * tr))
    top_ax.set_xticks(top_ticks)
    top_ax.set_xticklabels([fmt(t) for t in top_ticks])
    top_ax.tick_params(length=5.5, width=0.7, color="#444444", pad=6, labelsize=TICK_SIZE)
    right_ax = ax.secondary_yaxis("right", functions=(lambda v: v / rr, lambda v: v * rr))
    right_ax.set_yticks(right_ticks)
    right_ax.set_yticklabels([fmt(t) for t in right_ticks])
    right_ax.tick_params(length=5.5, width=0.7, color="#444444", pad=5, labelsize=TICK_SIZE)
    plt.setp(right_ax.get_yticklabels(), rotation=90, va="center")
    for sec in (top_ax, right_ax):
        for spine in sec.spines.values():
            spine.set_visible(False)

    ax.set_xlabel("")
    ax.set_ylabel("")
    ax.text(0.5376, -0.113, "robust PC1", transform=ax.transAxes, ha="center", va="center", fontsize=TICK_SIZE, fontweight="bold")
    ax.text(-0.119, 0.538, "robust PC2", transform=ax.transAxes, ha="center", va="center", rotation=90, fontsize=TICK_SIZE, fontweight="bold")

    # panel letter in its box, two of the boxes have washed out sides
    bx, by = box_pos[i]
    bw, bh = 0.059, 0.059
    side_colour = "#cccccc" if box_faint_sides[i] else "#222222"
    ax.add_patch(Rectangle((bx, by), bw, bh, transform=ax.transAxes, fill=False, ec=side_colour, lw=0.6, zorder=5))
    for edge in (by, by + bh):
        ax.plot([bx, bx + bw], [edge, edge], transform=ax.transAxes, color="#222222", lw=0.7, zorder=5)
    ax.text(bx + bw / 2, by + bh / 2 + 0.002, panel_ids[i], transform=ax.transAxes, ha="center", va="center",
            fontsize=TICK_SIZE, fontweight="bold", color="#222222", zorder=6)
    return ax


fig = plt.figure(figsize=(FIG_W / DPI, FIG_H / DPI), dpi=DPI, facecolor="white")
for i, panel in enumerate(panels):
    draw_panel(fig, i, panel)

fig.savefig("out.png", dpi=DPI)
